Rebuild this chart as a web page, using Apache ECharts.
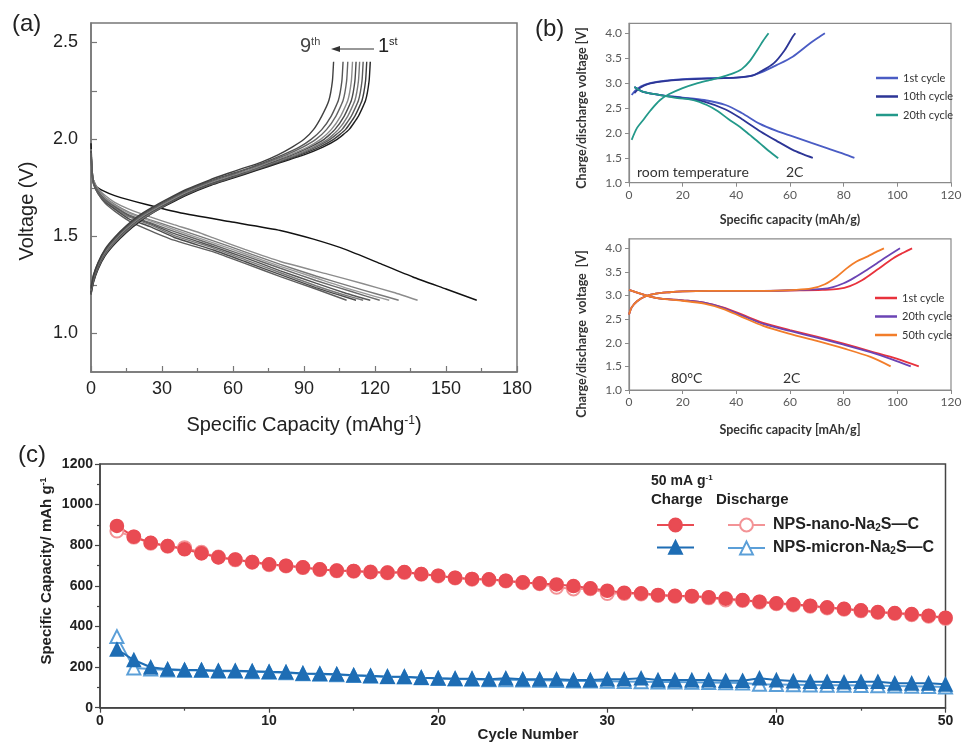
<!DOCTYPE html>
<html><head><meta charset="utf-8">
<script src="https://cdn.jsdelivr.net/npm/echarts@6/dist/echarts.min.js"></script>
<style>html,body{margin:0;padding:0;background:#fff}#c{width:962px;height:743px}</style>
</head><body><div id="c"></div>
<script>
// ---------- Panel (a): galvanostatic curves, cycles 1..9 [capacity mAh/g, voltage V] ----------
const aChargeCurves = [
  [[0,1.2],[1,1.26],[3,1.33],[6,1.4],[10,1.46],[15,1.52],[20,1.57],[26,1.62],[32,1.66],[40,1.71],[50,1.76],[60,1.8],[70,1.84],[80,1.88],[90,1.92],[98,1.96],[104,2.0],[109,2.05],[113,2.12],[116,2.2],[117.5,2.3],[118,2.4]],
  [[0,1.21],[1,1.27],[3,1.34],[6,1.41],[10,1.47],[15,1.53],[20,1.58],[26,1.625],[32,1.665],[40,1.715],[50,1.765],[60,1.805],[69,1.84],[79,1.88],[88.5,1.92],[96.5,1.96],[102.5,2.0],[107.5,2.05],[111.5,2.12],[114.5,2.2],[116,2.3],[116.5,2.4]],
  [[0,1.2],[1,1.265],[3,1.335],[6,1.405],[10,1.465],[15,1.525],[20,1.575],[26,1.62],[32,1.665],[40,1.715],[50,1.765],[60,1.805],[68.5,1.84],[78,1.88],[87.5,1.92],[95,1.96],[101,2.0],[106,2.05],[110,2.12],[113,2.2],[114.5,2.3],[115,2.4]],
  [[0,1.22],[1,1.28],[3,1.345],[6,1.41],[10,1.47],[15,1.53],[20,1.58],[26,1.625],[32,1.67],[40,1.72],[50,1.77],[60,1.81],[68,1.84],[77,1.88],[86.5,1.92],[94,1.96],[100,2.0],[104.5,2.05],[108.5,2.12],[111.5,2.2],[113,2.3],[113.5,2.4]],
  [[0,1.21],[1,1.275],[3,1.345],[6,1.415],[10,1.475],[15,1.535],[20,1.585],[26,1.63],[32,1.67],[40,1.72],[50,1.77],[60,1.81],[67,1.84],[76,1.88],[85,1.92],[92.5,1.96],[98.5,2.0],[103,2.05],[107,2.12],[110,2.2],[111.5,2.3],[112,2.4]],
  [[0,1.23],[1,1.29],[3,1.355],[6,1.42],[10,1.48],[15,1.54],[20,1.59],[26,1.635],[32,1.675],[40,1.725],[50,1.775],[60,1.815],[66.5,1.84],[75,1.88],[84,1.92],[91.5,1.96],[97,2.0],[101.5,2.05],[105.5,2.12],[108.5,2.2],[110,2.3],[110.5,2.4]],
  [[0,1.22],[1,1.285],[3,1.355],[6,1.425],[10,1.485],[15,1.545],[20,1.595],[26,1.64],[32,1.68],[40,1.73],[50,1.78],[60,1.82],[66,1.845],[74,1.88],[82.5,1.92],[89.5,1.96],[95,2.0],[99.5,2.05],[103.5,2.12],[106.5,2.2],[108,2.3],[108.5,2.4]],
  [[0,1.24],[1,1.3],[3,1.365],[6,1.43],[10,1.49],[15,1.55],[20,1.6],[26,1.645],[32,1.685],[40,1.735],[50,1.785],[60,1.825],[65,1.845],[73,1.88],[81,1.92],[88,1.96],[93,2.0],[97.5,2.05],[101.5,2.12],[104.5,2.2],[106,2.3],[106.5,2.4]],
  [[0,1.23],[1,1.295],[3,1.365],[6,1.435],[10,1.495],[15,1.555],[20,1.605],[26,1.65],[32,1.69],[40,1.74],[50,1.79],[58,1.825],[64,1.85],[71.5,1.88],[79,1.92],[85,1.96],[90,2.0],[94,2.05],[97.5,2.12],[100.5,2.2],[102,2.3],[102.5,2.4]]
];
const aDischargeCurves = [
  [[0,1.98],[0.3,1.88],[0.8,1.8],[2,1.76],[5,1.735],[10,1.71],[23,1.665],[38,1.62],[59,1.575],[80,1.53],[94,1.485],[108,1.43],[122,1.36],[136,1.29],[150,1.228],[163,1.17]],
  [[0,1.95],[0.4,1.85],[1,1.79],[3,1.745],[6,1.71],[10,1.675],[16,1.64],[25,1.6],[35,1.56],[45,1.522],[52,1.49],[65,1.432],[80,1.37],[100,1.305],[115,1.255],[128,1.21],[138,1.17]],
  [[0,1.95],[0.4,1.85],[1,1.79],[3,1.74],[6,1.7],[10,1.665],[16,1.625],[25,1.585],[35,1.545],[52,1.475],[65,1.42],[80,1.355],[95,1.295],[110,1.24],[120,1.205],[130,1.17]],
  [[0,1.94],[0.4,1.84],[1,1.785],[3,1.735],[6,1.695],[10,1.66],[16,1.62],[25,1.58],[35,1.535],[52,1.465],[65,1.41],[80,1.345],[95,1.285],[110,1.225],[126,1.17]],
  [[0,1.95],[0.4,1.85],[1,1.78],[3,1.73],[6,1.69],[10,1.655],[16,1.61],[25,1.57],[35,1.525],[52,1.455],[65,1.4],[80,1.335],[95,1.272],[110,1.215],[122,1.17]],
  [[0,1.94],[0.4,1.84],[1,1.78],[3,1.73],[6,1.685],[10,1.65],[16,1.605],[25,1.565],[35,1.515],[52,1.445],[65,1.39],[80,1.322],[95,1.258],[108,1.205],[118,1.17]],
  [[0,1.93],[0.4,1.83],[1,1.775],[3,1.725],[6,1.68],[10,1.645],[16,1.6],[25,1.56],[35,1.505],[52,1.438],[65,1.38],[80,1.312],[95,1.245],[105,1.205],[115,1.17]],
  [[0,1.94],[0.4,1.84],[1,1.775],[3,1.72],[6,1.675],[10,1.64],[16,1.59],[25,1.55],[35,1.495],[52,1.428],[65,1.37],[80,1.302],[95,1.235],[104,1.2],[112,1.17]],
  [[0,1.93],[0.4,1.83],[1,1.77],[3,1.72],[6,1.67],[10,1.63],[16,1.58],[23,1.54],[35,1.48],[52,1.418],[65,1.36],[80,1.292],[95,1.228],[108,1.17]]
];
const aChargeColors = ['#1e1e1e','#3c3c3c','#5a5a5a','#787878','#4a4a4a','#8a8a8a','#666666','#555555','#404040'];
const aDischargeColors = ['#111111','#8c8c8c','#7a7a7a','#999999','#6a6a6a','#555555','#777777','#4c4c4c','#5e5e5e'];

// ---------- Panel (b) top: room temperature, 2C ----------
const rtNames = ['1st cycle', '10th cycle', '20th cycle'];
const rtColors = ['#4a5cc4', '#2c3596', '#23998a'];
const rtCharge = [
  [[1,2.76],[3,2.88],[6,2.97],[12,3.04],[20,3.08],[30,3.1],[40,3.11],[45,3.14],[49,3.21],[55,3.36],[61,3.53],[67.5,3.8],[71,3.93],[73,4.0]],
  [[2,2.8],[4,2.9],[7,2.98],[12,3.03],[20,3.07],[30,3.09],[40,3.11],[46,3.15],[49,3.23],[54,3.4],[58,3.66],[61,3.93],[62,4.0]],
  [[1,1.86],[3,2.1],[5.3,2.26],[8,2.45],[11.6,2.66],[15,2.78],[20,2.9],[25,2.99],[30,3.06],[35,3.13],[39,3.2],[42,3.28],[45,3.44],[48,3.68],[50,3.85],[52,4.0]]
];
const rtDischarge = [
  [[2,2.92],[5,2.83],[11.6,2.76],[20,2.71],[28,2.66],[36,2.56],[42,2.4],[48.8,2.18],[55,2.04],[61,1.93],[68,1.8],[74,1.69],[80,1.58],[84,1.5]],
  [[2,2.92],[5,2.83],[11.6,2.76],[20,2.7],[28,2.63],[36,2.47],[42,2.28],[49,2.03],[55,1.84],[61,1.66],[65,1.57],[68.5,1.5]],
  [[2,2.92],[5,2.83],[11.6,2.76],[18,2.7],[24,2.66],[29,2.56],[33,2.44],[37,2.28],[41.4,2.12],[45,1.96],[48.8,1.79],[52,1.64],[55.6,1.49]]
];

// ---------- Panel (b) bottom: 80 °C, 2C ----------
const htNames = ['1st cycle', '20th cycle', '50th cycle'];
const htColors = ['#e8323c', '#6b44b4', '#f27d2a'];
const htCharge = [
  [[0,2.6],[1,2.75],[3,2.88],[6,2.98],[10,3.04],[15,3.07],[20,3.09],[30,3.1],[50,3.1],[65,3.11],[72,3.12],[78,3.14],[82.3,3.2],[87,3.33],[92.3,3.54],[98.5,3.79],[102,3.9],[105.5,4.0]],
  [[0,2.6],[1,2.75],[3,2.88],[6,2.98],[10,3.04],[15,3.07],[20,3.09],[30,3.1],[50,3.1],[65,3.12],[72,3.14],[76,3.18],[80,3.26],[84,3.38],[88,3.52],[92.3,3.68],[96,3.82],[101,4.0]],
  [[0,2.6],[1,2.75],[3,2.88],[6,2.98],[10,3.04],[15,3.07],[20,3.09],[30,3.1],[50,3.1],[62,3.12],[68,3.15],[73,3.24],[77.4,3.4],[81,3.57],[84.8,3.72],[89,3.83],[92,3.92],[95,4.0]]
];
const htDischarge = [
  [[0,3.12],[10,2.95],[20,2.9],[28,2.85],[35,2.75],[42,2.6],[50,2.42],[60,2.27],[70,2.13],[80,1.98],[90,1.82],[100,1.66],[108,1.5]],
  [[0,3.12],[10,2.95],[20,2.9],[28,2.85],[35,2.74],[42,2.58],[50,2.4],[60,2.25],[70,2.11],[80,1.96],[90,1.8],[98,1.65],[105,1.5]],
  [[0,3.12],[10,2.95],[20,2.89],[28,2.83],[35,2.72],[42,2.55],[50,2.36],[60,2.19],[70,2.04],[80,1.88],[90,1.7],[97.5,1.5]]
];

// ---------- Panel (c): cycling at 50 mA/g ----------
const cycles = [1,2,3,4,5,6,7,8,9,10,11,12,13,14,15,16,17,18,19,20,21,22,23,24,25,26,27,28,29,30,31,32,33,34,35,36,37,38,39,40,41,42,43,44,45,46,47,48,49,50];
const nanoCharge = [895,842,812,796,780,760,740,730,717,706,699,691,681,675,673,668,665,668,658,650,640,634,632,625,617,612,607,599,588,576,566,563,555,551,550,544,537,530,522,514,509,502,494,487,479,471,466,461,453,443];
const nanoDischarge = [870,840,810,795,788,765,742,728,716,704,698,690,680,674,672,668,664,666,657,649,639,633,630,624,615,610,593,585,586,562,562,560,553,549,548,541,530,528,520,512,506,500,491,485,477,469,464,458,450,440];
const micronCharge = [287,235,199,189,186,186,182,182,180,177,175,169,167,165,160,157,153,153,148,145,143,143,140,145,140,140,140,136,136,140,140,145,136,136,136,136,133,133,145,136,131,128,128,125,128,128,120,120,120,115];
const micronDischarge = [350,196,190,186,184,183,180,179,177,175,172,167,165,162,158,155,152,151,147,144,141,140,138,138,136,135,134,132,131,130,129,128,127,126,125,124,123,122,115,114,113,112,111,110,109,108,107,106,105,102];

const FA = '"Liberation Sans", Arial, Helvetica, sans-serif';
const FB = 'Lato, "Open Sans", sans-serif';

const chart = echarts.init(document.getElementById('c'), null, {renderer: 'canvas'});

function valAxis(o) {
  return Object.assign({type: 'value', splitLine: {show: false}, axisLine: {show: true, onZero: false}}, o);
}

const xAxes = [
  valAxis({gridIndex: 0, min: 0, max: 180, interval: 30,
    axisLine: {show: true, onZero: false, lineStyle: {color: '#777', width: 1.5}},
    axisTick: {show: true, inside: true, length: 6, lineStyle: {color: '#777', width: 1.2}},
    minorTick: {show: true, splitNumber: 2, length: 4, lineStyle: {color: '#777', width: 1.2}},
    axisLabel: {fontSize: 18, color: '#222', fontFamily: FA, margin: 8}}),
  valAxis({gridIndex: 1, min: 0, max: 120, interval: 20,
    axisLine: {show: true, onZero: false, lineStyle: {color: '#8a8a8a', width: 1.2}},
    axisTick: {show: true, length: 4, lineStyle: {color: '#8a8a8a'}},
    axisLabel: {fontSize: 12, color: '#595959', fontFamily: FB, margin: 6}}),
  valAxis({gridIndex: 2, min: 0, max: 120, interval: 20,
    axisLine: {show: true, onZero: false, lineStyle: {color: '#8a8a8a', width: 1.2}},
    axisTick: {show: true, length: 4, lineStyle: {color: '#8a8a8a'}},
    axisLabel: {fontSize: 12, color: '#595959', fontFamily: FB, margin: 6}}),
  valAxis({gridIndex: 3, min: 0, max: 50, interval: 10,
    axisLine: {show: true, onZero: false, lineStyle: {color: '#444', width: 1.5}},
    axisTick: {show: true, length: 5, lineStyle: {color: '#444', width: 1.2}},
    minorTick: {show: true, splitNumber: 2, length: 3, lineStyle: {color: '#444', width: 1.2}},
    axisLabel: {fontSize: 14, fontWeight: 'bold', color: '#222', fontFamily: FA, margin: 6}})
];
const bTicks = [1, 1.5, 2, 2.5, 3, 3.5, 4];
const yAxes = [
  valAxis({gridIndex: 0, min: 0.8, max: 2.6,
    axisLine: {show: true, onZero: false, lineStyle: {color: '#777', width: 1.5}},
    axisTick: {show: true, inside: true, length: 6, customValues: [1, 1.25, 1.5, 1.75, 2, 2.25, 2.5], lineStyle: {color: '#777', width: 1.2}},
    axisLabel: {customValues: [1, 1.5, 2, 2.5], formatter: v => v.toFixed(1), fontSize: 18, color: '#222', fontFamily: FA, margin: 13}}),
  valAxis({gridIndex: 1, min: 1, max: 4.2,
    axisLine: {show: true, onZero: false, lineStyle: {color: '#8a8a8a', width: 1.2}},
    axisTick: {show: true, length: 4, customValues: bTicks, lineStyle: {color: '#8a8a8a'}},
    axisLabel: {customValues: bTicks, formatter: v => v.toFixed(1), fontSize: 12, color: '#595959', fontFamily: FB, margin: 7}}),
  valAxis({gridIndex: 2, min: 1, max: 4.2,
    axisLine: {show: true, onZero: false, lineStyle: {color: '#8a8a8a', width: 1.2}},
    axisTick: {show: true, length: 4, customValues: bTicks, lineStyle: {color: '#8a8a8a'}},
    axisLabel: {customValues: bTicks, formatter: v => v.toFixed(1), fontSize: 12, color: '#595959', fontFamily: FB, margin: 7}}),
  valAxis({gridIndex: 3, min: 0, max: 1200, interval: 200,
    axisLine: {show: true, onZero: false, lineStyle: {color: '#444', width: 1.5}},
    axisTick: {show: true, length: 5, lineStyle: {color: '#444', width: 1.2}},
    minorTick: {show: true, splitNumber: 2, length: 3, lineStyle: {color: '#444', width: 1.2}},
    axisLabel: {formatter: v => String(v), fontSize: 14, fontWeight: 'bold', color: '#222', fontFamily: FA, margin: 7}})
];

const series = [];
function curve(name, data, axis, color, width, sm) {
  series.push({name: name, type: 'line', xAxisIndex: axis, yAxisIndex: axis, data: data,
    smooth: sm, showSymbol: false, symbol: 'none', silent: true,
    lineStyle: {color: color, width: width}, itemStyle: {color: color}});
}
aDischargeCurves.forEach((d, i) => curve('a-discharge-' + (i + 1), d, 0, aDischargeColors[i], 1.4, 0.15));
aChargeCurves.forEach((d, i) => curve('a-charge-' + (i + 1), d, 0, aChargeColors[i], 1.4, 0.15));
rtNames.forEach((n, i) => {
  curve('rt|' + n, rtCharge[i], 1, rtColors[i], 1.8, 0.3);
  series.push(Object.assign({}, series[series.length - 1], {name: 'rt|' + n, data: rtDischarge[i]}));
});
htNames.forEach((n, i) => {
  curve('ht|' + n, htCharge[i], 2, htColors[i], 1.8, 0.3);
  series.push(Object.assign({}, series[series.length - 1], {name: 'ht|' + n, data: htDischarge[i]}));
});

const pair = (vals) => cycles.map((c, i) => [c, vals[i]]);
const cSeries = [
  {name: 'micronD', data: pair(micronDischarge), symbol: 'emptyTriangle', color: '#5b9fd8'},
  {name: 'nanoD', data: pair(nanoDischarge), symbol: 'emptyCircle', color: '#f39396'},
  {name: 'micronC', data: pair(micronCharge), symbol: 'triangle', color: '#1e6db4'},
  {name: 'nanoC', data: pair(nanoCharge), symbol: 'circle', color: '#e94b53'}
];
cSeries.forEach(s => {
  series.push({name: s.name, type: 'line', xAxisIndex: 3, yAxisIndex: 3, data: s.data,
    symbol: s.symbol, symbolSize: 13, showSymbol: true, silent: true,
    lineStyle: {color: s.color, width: 2}, itemStyle: {color: s.color, borderColor: s.color, borderWidth: 1.6}});
});

const dispNames = {
  'nanoD': 'NPS-nano-Na{sub|2}S\u2014C',
  'micronD': 'NPS-micron-Na{sub|2}S\u2014C'
};

function txt(x, y, text, font, opts) {
  return Object.assign({type: 'text', x: x, y: y, silent: true,
    style: Object.assign({text: text, fontSize: font.size, fontFamily: font.family, fontWeight: font.weight || 'normal',
      fill: font.color || '#222', align: font.align || 'left', verticalAlign: 'middle', rich: font.rich})}, opts || {});
}
const supA = {s: {fontSize: 12, fontFamily: FA, fill: '#222', verticalAlign: 'top'}};
const graphics = [
  txt(12, 24, '(a)', {size: 24, family: FA, color: '#222'}),
  txt(535, 29, '(b)', {size: 24, family: FA, color: '#222'}),
  txt(18, 455, '(c)', {size: 24, family: FA, color: '#222'}),
  txt(27, 211, 'Voltage (V)', {size: 20, family: FA, color: '#222', align: 'center'}, {rotation: Math.PI / 2}),
  txt(304, 425, 'Specific Capacity (mAhg{s|-1})', {size: 20, family: FA, color: '#222', align: 'center', rich: supA}),
  txt(300, 46, '9{s|th}', {size: 20, family: FA, color: '#444', rich: {s: {fontSize: 11, fontFamily: FA, fill: '#444', verticalAlign: 'top'}}}),
  txt(378, 46, '1{s|st}', {size: 20, family: FA, color: '#222', rich: {s: {fontSize: 11, fontFamily: FA, fill: '#222', verticalAlign: 'top'}}}),
  {type: 'line', silent: true, shape: {x1: 374, y1: 49, x2: 338, y2: 49}, style: {stroke: '#333', lineWidth: 1.2}},
  {type: 'polygon', silent: true, shape: {points: [[331, 49], [340, 46], [340, 52]]}, style: {fill: '#333'}},
  // panel (b)
  txt(582, 108, 'Charge/discharge voltage [V]', {size: 12.5, family: FB, weight: 'bold', color: '#333', align: 'center'}, {rotation: Math.PI / 2}),
  txt(790, 220, 'Specific capacity (mAh/g)', {size: 12.5, family: FB, weight: 'bold', color: '#333', align: 'center'}),
  txt(637, 172, 'room temperature', {size: 14, family: FB, color: '#333'}),
  txt(786, 172, '2C', {size: 14, family: FB, color: '#333'}),
  txt(582, 334, 'Charge/discharge  voltage  [V]', {size: 12.5, family: FB, weight: 'bold', color: '#333', align: 'center'}, {rotation: Math.PI / 2}),
  txt(790, 430, 'Specific capacity [mAh/g]', {size: 12.5, family: FB, weight: 'bold', color: '#333', align: 'center'}),
  txt(671, 378, '80\u00B0C', {size: 14, family: FB, color: '#333'}),
  txt(783, 378, '2C', {size: 14, family: FB, color: '#333'}),
  // panel (c)
  txt(47, 571, 'Specific Capacity/ mAh g{s|-1}', {size: 15, family: FA, weight: 'bold', color: '#222', align: 'center',
    rich: {s: {fontSize: 9, fontFamily: FA, fontWeight: 'bold', fill: '#222', verticalAlign: 'top'}}}, {rotation: Math.PI / 2}),
  txt(528, 735, 'Cycle Number', {size: 15, family: FA, weight: 'bold', color: '#222', align: 'center'}),
  txt(651, 481, '50 mA g{s|-1}', {size: 14, family: FA, weight: 'bold', color: '#222',
    rich: {s: {fontSize: 8, fontFamily: FA, fontWeight: 'bold', fill: '#222', verticalAlign: 'top'}}}),
  txt(651, 500, 'Charge', {size: 15, family: FA, weight: 'bold', color: '#222'}),
  txt(716, 500, 'Discharge', {size: 15, family: FA, weight: 'bold', color: '#222'})
];

const option = {
  animation: false,
  backgroundColor: '#fff',
  grid: [
    {left: 91, top: 23, width: 426, height: 349, show: true, borderColor: '#777', borderWidth: 1.5, containLabel: false, outerBoundsMode: 'none'},
    {left: 629, top: 23.3, width: 322, height: 159.4, show: true, borderColor: '#8a8a8a', borderWidth: 1.2, containLabel: false, outerBoundsMode: 'none'},
    {left: 629, top: 238.9, width: 322, height: 151.1, show: true, borderColor: '#8a8a8a', borderWidth: 1.2, containLabel: false, outerBoundsMode: 'none'},
    {left: 100, top: 464, width: 845.5, height: 243.7, show: true, borderColor: '#444', borderWidth: 1.5, containLabel: false, outerBoundsMode: 'none'}
  ],
  xAxis: xAxes,
  yAxis: yAxes,
  legend: [
    {data: rtNames.map(n => 'rt|' + n), orient: 'vertical', left: 871, top: 66, itemWidth: 22, itemHeight: 2.5, itemGap: 4.5,
      icon: 'rect', selectedMode: false, formatter: n => n.split('|')[1],
      textStyle: {fontSize: 11, color: '#333', fontFamily: FB, lineHeight: 14}},
    {data: htNames.map(n => 'ht|' + n), orient: 'vertical', left: 870, top: 286, itemWidth: 22, itemHeight: 2.5, itemGap: 4.5,
      icon: 'rect', selectedMode: false, formatter: n => n.split('|')[1],
      textStyle: {fontSize: 11, color: '#333', fontFamily: FB, lineHeight: 14}},
    {data: ['nanoC', 'micronC'], orient: 'vertical', left: 651, top: 512, itemWidth: 37, itemHeight: 16, itemGap: 7,
      selectedMode: false, formatter: () => '', textStyle: {fontSize: 1}},
    {data: ['nanoD', 'micronD'], orient: 'vertical', left: 722, top: 512, itemWidth: 37, itemHeight: 16, itemGap: 7,
      selectedMode: false, formatter: n => dispNames[n],
      textStyle: {fontSize: 16, fontWeight: 'bold', color: '#222', fontFamily: FA, padding: [0, 0, 0, 3],
        rich: {sub: {fontSize: 10, fontWeight: 'bold', color: '#222', fontFamily: FA, verticalAlign: 'bottom'}}}}
  ],
  graphic: graphics,
  series: series
};
chart.setOption(option);
</script></body></html>
